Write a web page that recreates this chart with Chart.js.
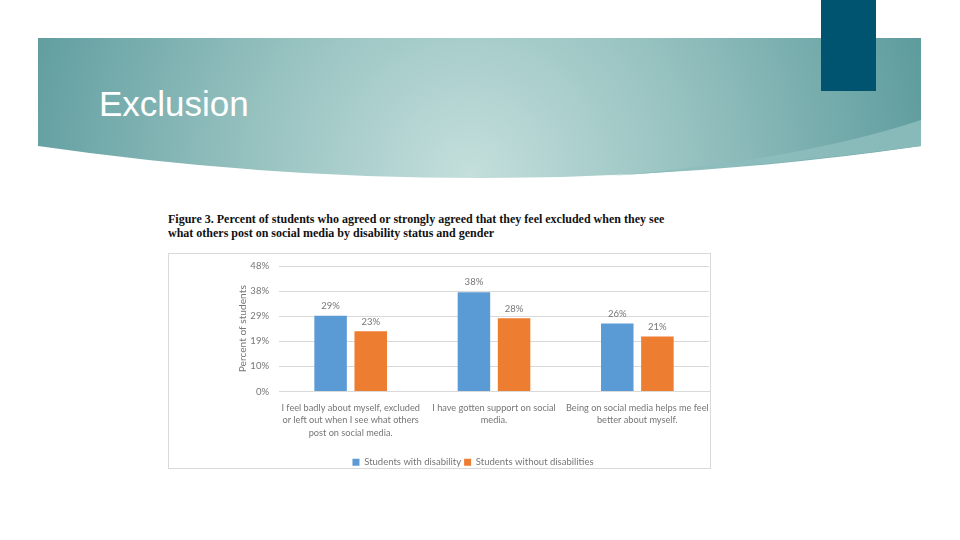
<!DOCTYPE html>
<html>
<head>
<meta charset="utf-8">
<script src="https://cdn.jsdelivr.net/npm/chart.js@4.4.0/dist/chart.umd.min.js"></script>
<style>
  body { margin: 0; width: 960px; height: 540px; background: #fff; position: relative; overflow: hidden; font-family: "Liberation Sans", Arial, sans-serif; }
  #banner { position: absolute; left: 0; top: 0; }
  #titulo { position: absolute; left: 99px; top: 84px; color: #fff; font-size: 35px; font-family: "Liberation Sans", Arial, sans-serif; }
  #legenda_fig { position: absolute; left: 168px; top: 212px; width: 580px; font-family: "Liberation Serif", "Times New Roman", serif; font-weight: bold; font-size: 12px; line-height: 14px; color: #111; }
  #caixa { position: absolute; left: 168px; top: 253px; width: 541px; height: 214px; border: 1px solid #d9d9d9; }
  #caixa canvas { position: absolute; left: 0; top: 0; }
</style>
</head>
<body>
<svg id="banner" width="960" height="200">
  <defs>
    <radialGradient id="grad" gradientUnits="userSpaceOnUse" cx="470" cy="175" r="500">
      <stop offset="0" stop-color="#c4dfdc"/>
      <stop offset="0.45" stop-color="#95c1bf"/>
      <stop offset="1" stop-color="#57979a"/>
    </radialGradient>
  </defs>
  <path d="M38,38 H921 V146 Q480,210 38,146 Z" fill="url(#grad)"/>
  <path d="M921,120 Q800,160 610,176 Q780,165 921,146 Z" fill="#8dbdbc" opacity="0.9"/>
  <rect x="821" y="0" width="55" height="91" fill="#00546f"/>
</svg>
<div id="titulo">Exclusion</div>
<div id="legenda_fig">Figure 3. Percent of students who agreed or strongly agreed that they feel excluded when they see<br>what others post on social media by disability status and gender</div>
<div id="caixa"><canvas id="myChart" width="541" height="223"></canvas></div>
<script>
// dados do grafico
var categorias = [
  ['I feel badly about myself, excluded', 'or left out when I see what others', 'post on social media.'],
  ['I have gotten support on social', 'media.'],
  ['Being on social media helps me feel', 'better about myself.']
];
var com_deficiencia = [29, 38, 26];
var sem_deficiencia = [23, 28, 21];
var ticks_y = [0, 9.6, 19.2, 28.8, 38.4, 48];

var cinza = '#767676';
var fonte = 'Lato, "Open Sans", sans-serif';

// escreve o valor em cima de cada barra
var rotulos = {
  id: 'rotulos',
  afterDatasetsDraw: function(chart) {
    var ctx = chart.ctx;
    ctx.save();
    ctx.font = '9.5px ' + fonte;
    ctx.fillStyle = cinza;
    ctx.textAlign = 'center';
    ctx.textBaseline = 'bottom';
    chart.data.datasets.forEach(function(ds, i) {
      chart.getDatasetMeta(i).data.forEach(function(bar, j) {
        ctx.fillText(Math.round(ds.data[j]) + '%', bar.x, bar.y - 5);
      });
    });
    ctx.restore();
  }
};

const ctx = document.getElementById('myChart');
const grafico = new Chart(ctx, {
  type: 'bar',
  data: {
    labels: categorias,
    datasets: [{
      label: 'Students with disability',
      data: com_deficiencia,
      backgroundColor: '#5b9bd5'
    },
    {
      label: 'Students without disabilities',
      data: sem_deficiencia,
      backgroundColor: '#ed7d31'
    }]
  },
  options: {
    responsive: false,
    animation: false,
    categoryPercentage: 0.56,
    barPercentage: 0.81,
    layout: { padding: { left: 68, right: 1, top: 12, bottom: 0 } },
    scales: {
      y: {
        min: 0,
        max: 48,
        afterBuildTicks: function(scale) {
          scale.ticks = ticks_y.map(function(v) { return { value: v }; });
        },
        afterFit: function(scale) { scale.width = 42; scale.paddingTop = 0; scale.paddingBottom = 0; },
        ticks: {
          color: cinza,
          padding: 10,
          font: { size: 9.5, family: fonte },
          callback: function(v) { return Math.round(v) + '%'; }
        },
        grid: { color: '#d9d9d9', drawTicks: false },
        border: { display: false },
        title: {
          display: true,
          text: 'Percent of students',
          color: cinza,
          padding: 0,
          font: { size: 10.2, family: fonte }
        }
      },
      x: {
        afterFit: function(scale) { scale.height = 63; scale.paddingLeft = 0; scale.paddingRight = 0; },
        ticks: {
          color: cinza,
          padding: 2,
          maxRotation: 0,
          autoSkip: false,
          font: { size: 9.2, family: fonte, lineHeight: 1.36 }
        },
        grid: { display: false },
        border: { color: '#d9d9d9' }
      }
    },
    plugins: {
      legend: {
        position: 'bottom',
        labels: {
          color: cinza,
          boxWidth: 7,
          boxHeight: 7,
          padding: 3,
          font: { size: 9.5, family: fonte }
        }
      },
      tooltip: { enabled: false }
    }
  },
  plugins: [rotulos]
});
</script>
</body>
</html>
